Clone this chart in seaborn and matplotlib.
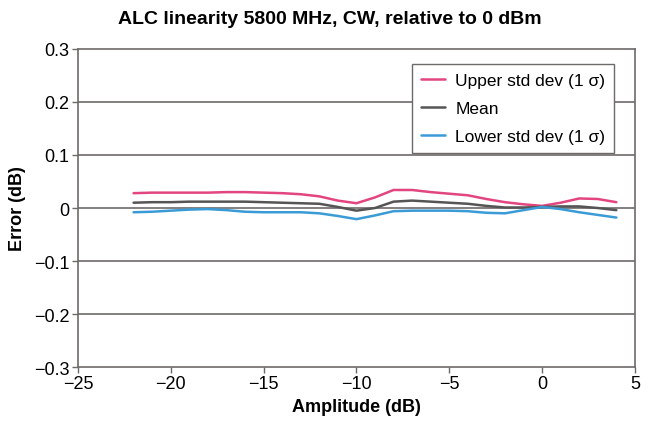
import pandas as pd
import matplotlib.pyplot as plt
import seaborn as sns

sns.set_style("white")
plt.rcParams['font.family'] = ['Liberation Sans Narrow', 'Liberation Sans', 'DejaVu Sans']
plt.rcParams['text.color'] = 'black'
plt.rcParams['axes.labelcolor'] = 'black'
plt.rcParams['xtick.color'] = 'black'
plt.rcParams['ytick.color'] = 'black'

# Data
amplitude = [-22, -21, -20, -19, -18, -17, -16, -15, -14, -13, -12, -11, -10,
             -9, -8, -7, -6, -5, -4, -3, -2, -1, 0, 1, 2, 3, 4]
upper = [0.028, 0.029, 0.029, 0.029, 0.029, 0.030, 0.030, 0.029, 0.028, 0.026,
         0.022, 0.014, 0.009, 0.020, 0.034, 0.034, 0.030, 0.027, 0.024, 0.017,
         0.011, 0.007, 0.004, 0.010, 0.018, 0.017, 0.011]
mean = [0.010, 0.011, 0.011, 0.012, 0.012, 0.012, 0.012, 0.011, 0.010, 0.009,
        0.008, 0.002, -0.005, 0.000, 0.012, 0.014, 0.012, 0.010, 0.008, 0.004,
        0.001, 0.001, 0.002, 0.003, 0.003, 0.000, -0.004]
lower = [-0.008, -0.007, -0.005, -0.003, -0.002, -0.004, -0.007, -0.008, -0.008,
         -0.008, -0.010, -0.015, -0.021, -0.014, -0.006, -0.005, -0.005, -0.005,
         -0.006, -0.009, -0.010, -0.004, 0.002, -0.002, -0.008, -0.013, -0.018]

labels = ["Upper std dev (1 σ)", "Mean", "Lower std dev (1 σ)"]
colors = {labels[0]: "#e2457f", labels[1]: "#555555", labels[2]: "#3b9bd6"}

df = pd.DataFrame({
    "Amplitude (dB)": amplitude * 3,
    "Error (dB)": upper + mean + lower,
    "series": [labels[0]] * len(amplitude) + [labels[1]] * len(amplitude)
              + [labels[2]] * len(amplitude),
})

fig = plt.figure(figsize=(6.6, 4.27), dpi=100)
ax = fig.add_axes([0.118, 0.138, 0.844, 0.745])

# -----------------------------
# Grid and lines
# -----------------------------
for y in [-0.2, -0.1, 0.0, 0.1, 0.2]:
    ax.axhline(y, color="#6e6a68", lw=1.2, zorder=1)

sns.lineplot(data=df, x="Amplitude (dB)", y="Error (dB)", hue="series",
             palette=colors, linewidth=1.8, ax=ax, zorder=3)

ax.set_xlim(-25, 5)
ax.set_ylim(-0.3, 0.3)
ax.set_xticks([-25, -20, -15, -10, -5, 0, 5])
ax.set_yticks([-0.3, -0.2, -0.1, 0, 0.1, 0.2, 0.3])
ax.set_yticklabels(["−0.3", "−0.2", "−0.1", "0", "0.1", "0.2", "0.3"])
ax.set_xticklabels(["−25", "−20", "−15", "−10", "−5", "0", "5"])
ax.tick_params(axis="both", labelsize=13, length=4, width=1, color="#6e6a68",
               direction="out", pad=2)
ax.tick_params(left=True, bottom=True)

for s in ax.spines.values():
    s.set_color("#6e6a68")
    s.set_linewidth(1.2)

fig.text(0.5, 0.955, "ALC linearity 5800 MHz, CW, relative to 0 dBm",
         fontsize=14, fontweight="bold", ha="center", va="center")
ax.set_xlabel("Amplitude (dB)", fontsize=13, fontweight="bold", labelpad=4)
ax.set_ylabel("Error (dB)", fontsize=13, fontweight="bold", labelpad=6)

leg = ax.legend(loc="upper right", bbox_to_anchor=(0.978, 0.98), fontsize=12.5,
                frameon=True, fancybox=False, handlelength=1.4,
                borderpad=0.5, labelspacing=0.75, handletextpad=0.6)
leg.get_frame().set_edgecolor("#6e6a68")
leg.get_frame().set_linewidth(1.0)
leg.get_frame().set_alpha(1)

plt.savefig("out.png", dpi=100)
plt.close()
